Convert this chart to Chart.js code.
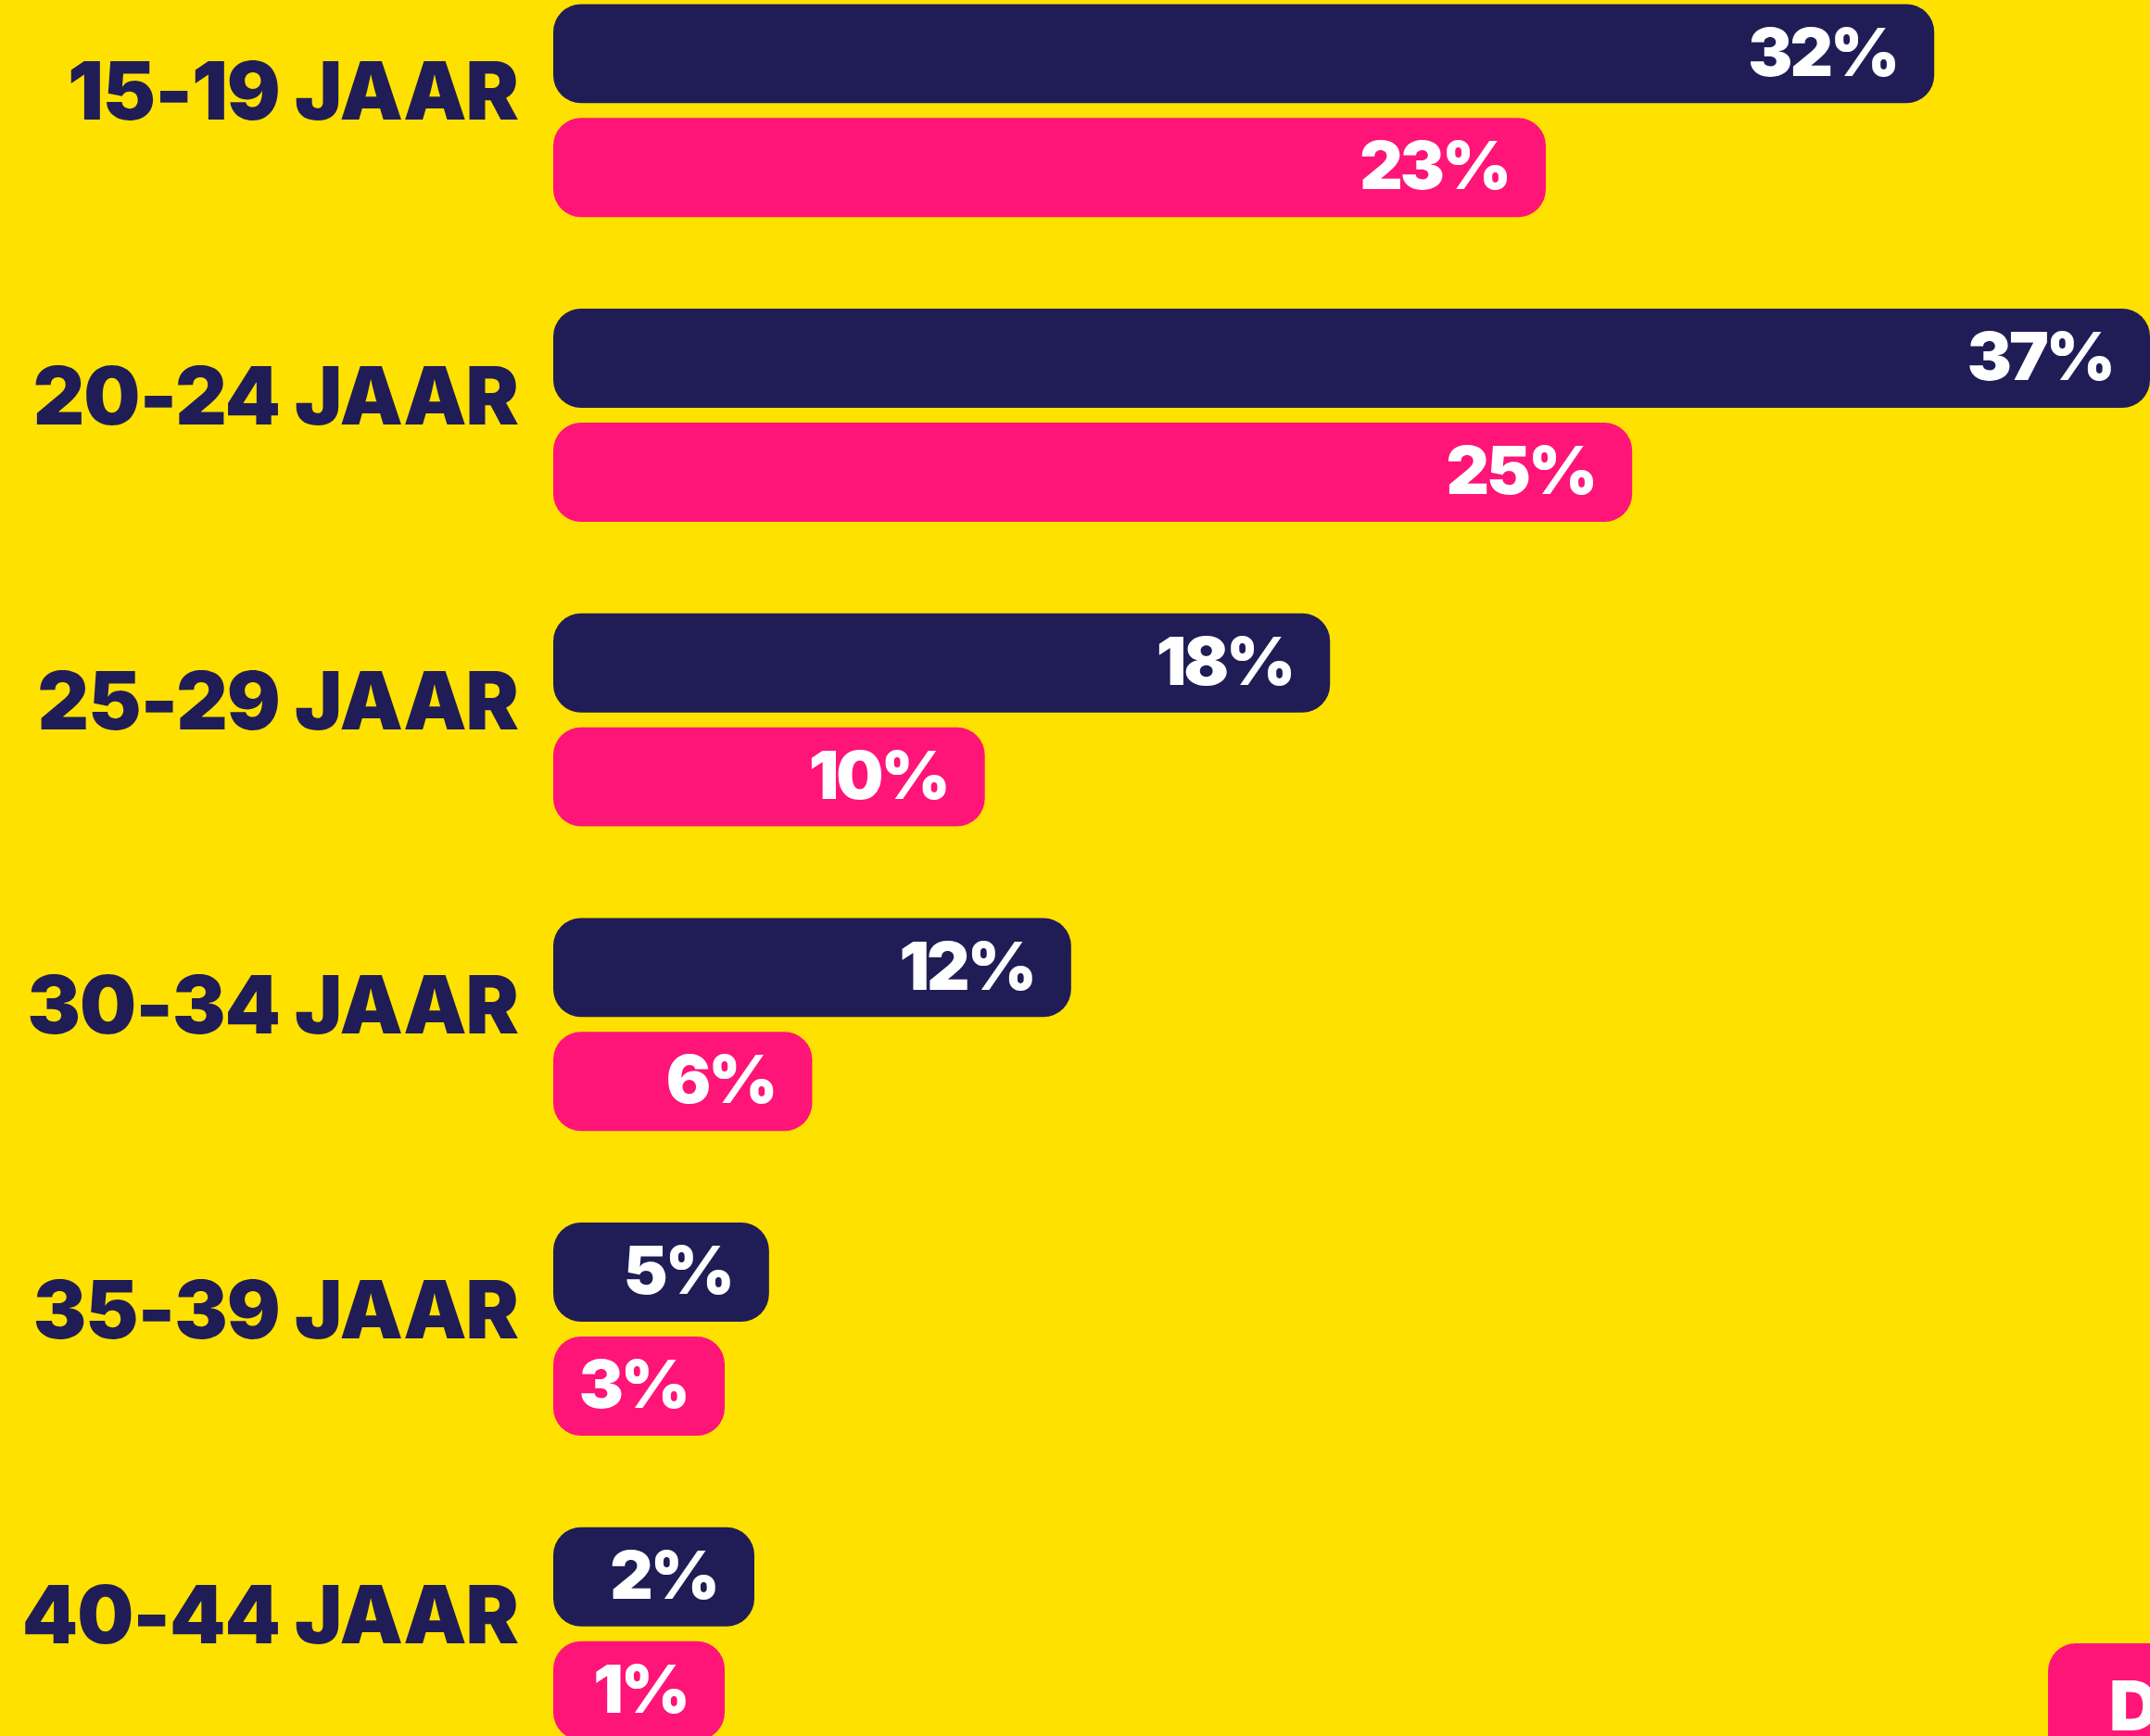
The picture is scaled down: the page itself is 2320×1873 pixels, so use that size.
<!DOCTYPE html>
<html>
<head>
<meta charset="utf-8">
<script src="https://cdn.jsdelivr.net/npm/chart.js@4"></script>
<style>
  html, body { margin: 0; padding: 0; width: 2320px; height: 1873px; overflow: hidden; background: #FFE100; }
  #wrap { position: absolute; left: 0; top: -45px; width: 2320px; height: 1972px; }
  #corner { position: absolute; left: 2210px; top: 1773px; width: 160px; height: 160px; background: #FF1478;
            border-radius: 30px; color: #fff; font-family: Inter, "Noto Sans", sans-serif; font-weight: 900;
            font-size: 74px; line-height: 1; padding: 30px 0 0 66px; box-sizing: border-box; }
</style>
</head>
<body>
<div id="wrap"><canvas id="c" width="2320" height="1972"></canvas></div>
<div id="corner">D</div>
<script>
const categories = ['15-19 JAAR', '20-24 JAAR', '25-29 JAAR', '30-34 JAAR', '35-39 JAAR', '40-44 JAAR'];
const seriesNavy = [32, 37, 18, 12, 5, 2];
const seriesPink = [23, 25, 10, 6, 3, 1];
const xTickMax = 37;

const NAVY = '#201D56';
const PINK = '#FF1478';

const tightText = {
  id: 'tightText',
  beforeDraw(chart) { chart.ctx.letterSpacing = '-1px'; }
};

const valueLabels = {
  id: 'valueLabels',
  afterDatasetsDraw(chart) {
    const ctx = chart.ctx;
    ctx.save();
    ctx.letterSpacing = '-3px';
    ctx.fillStyle = '#FFFFFF';
    ctx.font = '900 72px Inter, "Noto Sans", sans-serif';
    ctx.textAlign = 'right';
    ctx.textBaseline = 'middle';
    chart.data.datasets.forEach((ds, di) => {
      const meta = chart.getDatasetMeta(di);
      meta.data.forEach((el, i) => {
        const p = el.getProps(['x', 'y'], true);
        ctx.fillText(ds.data[i] + '%', p.x - 40, p.y + 2);
      });
    });
    ctx.restore();
  }
};

const chart = new Chart(document.getElementById('c'), {
  type: 'bar',
  data: {
    labels: categories,
    datasets: [
      { label: 'Reeks 1', data: seriesNavy, backgroundColor: NAVY, borderRadius: 30, borderSkipped: false,
        barPercentage: 0.87, categoryPercentage: 0.748, minBarLength: 217 },
      { label: 'Reeks 2', data: seriesPink, backgroundColor: PINK, borderRadius: 30, borderSkipped: false,
        barPercentage: 0.87, categoryPercentage: 0.748, minBarLength: 185 }
    ]
  },
  options: {
    indexAxis: 'y',
    responsive: false,
    animation: false,
    layout: { padding: 0 },
    plugins: { legend: { display: false }, tooltip: { enabled: false } },
    scales: {
      x: { min: 0, max: xTickMax, display: false, grid: { display: false } },
      y: {
        grid: { display: false, drawTicks: false },
        border: { display: false },
        afterFit(scale) {
          scale.width = 597;
          scale.paddingTop = 0;
          scale.paddingBottom = 0;
        },
        ticks: {
          color: NAVY,
          padding: 38,
          labelOffset: -16,
          font: { family: 'Inter, "Noto Sans", sans-serif', weight: 900, size: 86 }
        }
      }
    }
  },
  plugins: [tightText, valueLabels]
});
if (document.fonts && document.fonts.ready) {
  document.fonts.ready.then(() => chart.update());
}
</script>
</body>
</html>
